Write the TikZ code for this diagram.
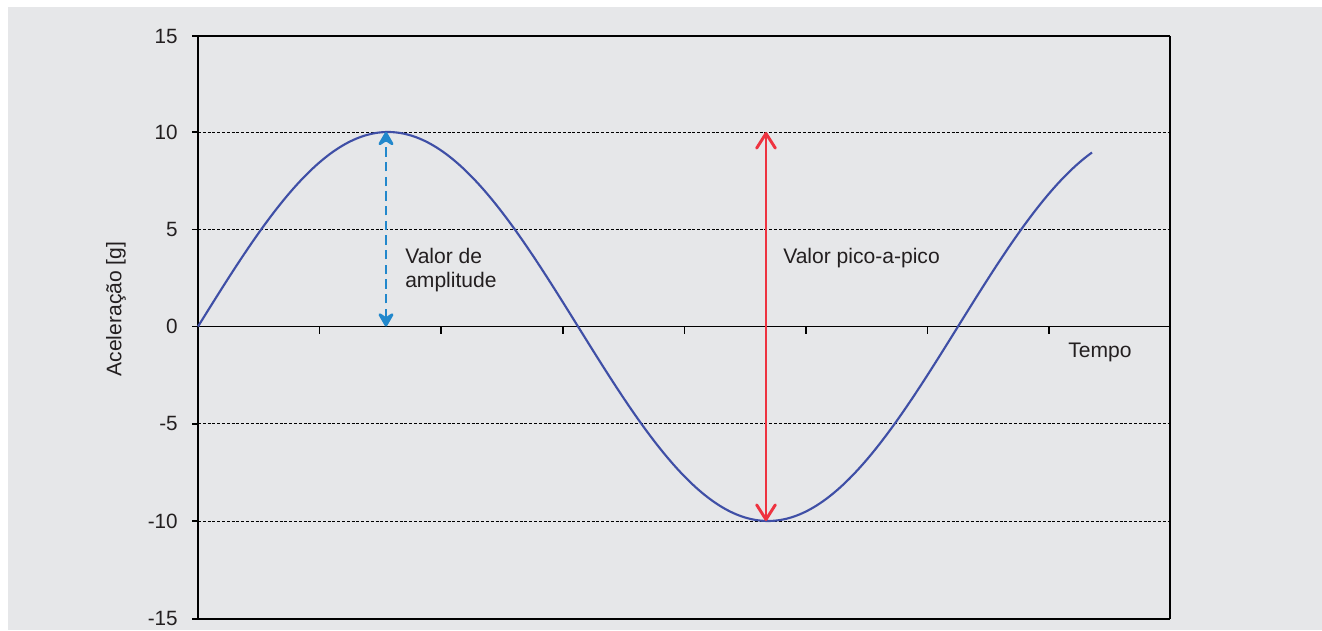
\documentclass[tikz,border=0pt]{standalone}
\usepackage{fontspec}
\setmainfont{Liberation Sans}
\usetikzlibrary{arrows.meta}
\definecolor{bg}{HTML}{E6E7E9}
\definecolor{txt}{HTML}{231F20}
\definecolor{sinecol}{HTML}{3F4FA6}
\definecolor{ampcol}{HTML}{2288CC}
\definecolor{ppcol}{HTML}{EE3340}
\tikzset{
  axisline/.style={black, line width=1.1pt},
  gridline/.style={black, line width=0.6pt, dash pattern=on 2.2pt off 1.4pt},
  ticklabel/.style={anchor=east, text=txt, font=\fontsize{15.5}{18}\selectfont, inner sep=0pt},
  lbl/.style={anchor=base west, text=txt, font=\fontsize{15.8}{17.5}\selectfont, inner sep=0pt, align=left},
  curve/.style={sinecol, line width=1.6pt},
  amparrow/.style={ampcol, line width=2.2pt, dash pattern=on 7pt off 4pt,
     {Stealth[length=13pt,width=15pt,inset=5pt,round]}-{Stealth[length=13pt,width=15pt,inset=5pt,round]}},
  pparrow/.style={ppcol, line width=2.2pt,
     {Straight Barb[length=11pt,width=14pt,round]}-{Straight Barb[length=11pt,width=14pt,round]}}
}
\begin{document}
\begin{tikzpicture}[x=0.75pt,y=-0.75pt]
\useasboundingbox (0,0) rectangle (1322,631);
\fill[white] (0,0) rectangle (1322,631);
\fill[bg] (8,7) rectangle (1322,630);
% grid lines
\foreach \v/\yy in {10/132,5/229.3,-5/423.8,-10/521}{
  \draw[gridline] (198,\yy) -- (1170,\yy);
}
% frame
\draw[axisline] (192,36) -- (1170,36);
\draw[axisline] (192,619) -- (1170,619);
\draw[axisline] (198,36) -- (198,619);
\draw[axisline] (1170,36) -- (1170,619);
\draw[axisline] (192,326.5) -- (1170,326.5);
% y ticks
\foreach \yy in {132,229.3,423.8,521}{
  \draw[axisline] (192,\yy) -- (198,\yy);
}
% x ticks
\foreach \k in {1,...,7}{
  \draw[axisline] ({198+121.6*\k},326.5) -- ({198+121.6*\k},334);
}
% tick labels
\node[ticklabel] (t15) at (178,36) {15};
\node[ticklabel] (t10) at (178,132) {10};
\node[ticklabel] (t5) at (178,229.3) {5};
\node[ticklabel] (t0) at (178,326.5) {0};
\node[ticklabel] (tm5) at (178,423.8) {-5};
\node[ticklabel] (tm10) at (178,521) {-10};
\node[ticklabel] (tm15) at (178,618) {-15};
% axis titles
\node[text=txt, font=\fontsize{15.8}{18}\selectfont, rotate=90, inner sep=0pt] (ylab) at (116,309) {Aceleração [g]};
\node[lbl] (tempo) at (1068,358) {Tempo};
% sine curve
\draw[curve] plot[domain=198:1092,samples=180,smooth] (\x,{326.5-194.5*sin((\x-198)/760*360)});
% arrows
\coordinate (peak) at (386,132);
\coordinate (peakbase) at (386,326.5);
\coordinate (pptop) at (766,132);
\coordinate (ppbot) at (766,521);
\draw[amparrow] (peakbase) -- (peak);
\draw[pparrow] (ppbot) -- (pptop);
% labels
\node[lbl] (amp) at (405,287) {Valor de\\amplitude};
\node[lbl] (pp) at (783,263) {Valor pico-a-pico};
\end{tikzpicture}
\end{document}
